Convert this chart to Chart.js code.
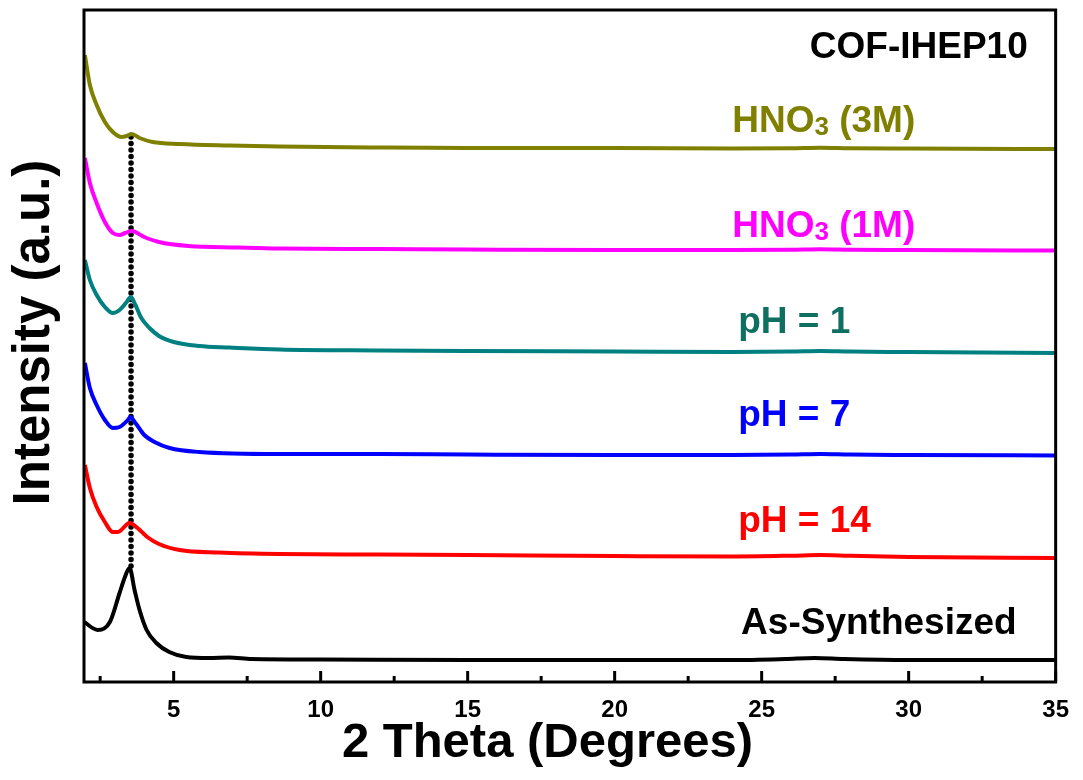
<!DOCTYPE html>
<html>
<head>
<meta charset="utf-8">
<title>COF-IHEP10 PXRD</title>
<script src="https://cdn.jsdelivr.net/npm/chart.js@4.4.1/dist/chart.umd.min.js"></script>
<style>
    html, body { margin: 0; padding: 0; background: #fff; }
</style>
</head>
<body>
<canvas id="xrdChart" width="1083" height="780"></canvas>
<script>
// Tick labels on the 2 Theta axis
const xTicks = [5, 10, 15, 20, 25, 30, 35];
const xMinorTicks = [2.5, 7.5, 12.5, 17.5, 22.5, 27.5, 32.5];

// Patterns (intensity in a.u., already offset as stacked in the figure)
const hno3M3Theta = [1.98, 2.15, 2.38, 2.66, 2.93, 3.23, 3.4, 3.57, 3.84, 4.28, 5.2, 6.9, 8.6, 12, 15, 20, 24, 26, 27, 28, 30, 35];
const hno3M3Int = [627, 597, 577, 560, 550, 545, 546, 548, 544, 540, 538, 536.5, 535.5, 534.5, 534, 534, 533.5, 533.8, 534.3, 533.8, 533.5, 533];

const hno3M1Theta = [1.98, 2.15, 2.38, 2.66, 2.93, 3.16, 3.35, 3.57, 4.0, 4.5, 5.5, 7.2, 8.6, 12, 15, 20, 24, 26, 27, 28, 30, 35];
const hno3M1Int = [524, 499, 479, 460, 449, 447, 449, 451, 445, 440, 436, 434.5, 433.5, 433, 432.5, 432, 432, 432.3, 432.8, 432.3, 432, 431.5];

const ph1Theta = [1.98, 2.15, 2.38, 2.66, 2.93, 3.16, 3.4, 3.54, 3.7, 3.9, 4.18, 4.5, 5.0, 5.87, 6.9, 8.6, 12, 15, 20, 24, 26, 27, 28, 30, 35];
const ph1Int = [422, 402, 387, 375, 369, 372, 380, 385, 377, 364, 354, 346, 340, 336, 334.5, 332.5, 331.5, 331, 330.5, 330, 330.4, 331, 330.4, 330, 329];

const ph7Theta = [1.98, 2.15, 2.38, 2.66, 2.93, 3.16, 3.44, 3.52, 3.7, 4.0, 4.35, 4.86, 5.87, 8.6, 12, 15, 20, 24, 26, 27, 28, 30, 35];
const ph7Int = [319, 294, 277, 262, 254, 255, 262, 265, 259, 247, 240, 234, 230, 228, 228, 227.5, 227, 227, 227.4, 228, 227.4, 227, 226.5];

const ph14Theta = [1.98, 2.15, 2.38, 2.66, 2.93, 3.1, 3.5, 3.77, 4.1, 4.5, 5.2, 6.55, 8.6, 12, 15, 20, 24, 26, 27, 28, 30, 35];
const ph14Int = [217, 194, 175, 160, 150, 150, 159, 154, 145, 138, 132, 129.5, 128, 127.5, 127, 126, 125.5, 126.3, 127, 126.2, 125, 124];

const asSynTheta = [1.95, 2.42, 2.83, 3.16, 3.33, 3.5, 3.67, 3.84, 4.08, 4.41, 4.85, 5.43, 6.2, 6.88, 7.65, 10, 15, 20, 24, 25.8, 26.8, 27.8, 30, 35];
const asSynInt = [60, 52, 60, 89, 104, 114, 92, 72, 52, 39, 30, 25, 24, 24.5, 23, 22.5, 22, 22, 22, 23, 24, 23, 22, 22];

// Dotted guide through the main peak
const peakLineTheta = [3.55, 3.55];
const peakLineInt = [545, 114];

const FONT = "'Liberation Sans', Arial, sans-serif";

function toPoints(xs, ys) {
    return xs.map((x, i) => ({ x: x, y: ys[i] }));
}

function patternDataset(label, xs, ys, color) {
    return {
        label: label,
        data: toPoints(xs, ys),
        borderColor: color,
        borderWidth: 4,
        pointRadius: 0,
        fill: false,
        cubicInterpolationMode: 'monotone'
    };
}

// Frame, inward ticks, axis titles and in-plot labels
const decorPlugin = {
    id: 'decor',
    afterDatasetsDraw(chart) {
        const ctx = chart.ctx;
        const area = chart.chartArea;
        const xs = chart.scales.x;
        const ys = chart.scales.y;

        ctx.save();
        ctx.strokeStyle = '#000';
        ctx.lineWidth = 3;
        ctx.strokeRect(area.left, area.top, area.right - area.left, area.bottom - area.top);

        xTicks.forEach(v => {
            const px = xs.getPixelForValue(v);
            ctx.beginPath();
            ctx.moveTo(px, area.bottom);
            ctx.lineTo(px, area.bottom - 11);
            ctx.stroke();
        });
        xMinorTicks.forEach(v => {
            const px = xs.getPixelForValue(v);
            ctx.beginPath();
            ctx.moveTo(px, area.bottom);
            ctx.lineTo(px, area.bottom - 6);
            ctx.stroke();
        });

        // axis titles
        ctx.fillStyle = '#000';
        ctx.textAlign = 'center';
        ctx.textBaseline = 'middle';
        ctx.font = 'bold 49px ' + FONT;
        ctx.fillText('2 Theta (Degrees)', area.left + (area.right - area.left) * 0.477, area.bottom + 61);
        ctx.save();
        ctx.translate(35, area.top + (area.bottom - area.top) * 0.48);
        ctx.rotate(-Math.PI / 2);
        ctx.font = 'bold 51px ' + FONT;
        ctx.fillText('Intensity (a.u.)', 0, 0);
        ctx.restore();

        const labels = [
            { parts: [['COF-IHEP10', 37, 0]], x: 34.05, y: 634, color: '#000', align: 'right' },
            { parts: [['HNO', 37, 0], ['3', 26, 6], [' (3M)', 37, 0]], x: 24.0, y: 560, color: '#808000' },
            { parts: [['HNO', 37, 0], ['3', 26, 6], [' (1M)', 37, 0]], x: 24.0, y: 455, color: '#ff00ff' },
            { parts: [['pH = 1', 37, 0]], x: 24.2, y: 359, color: '#0f6f60' },
            { parts: [['pH = 7', 37, 0]], x: 24.2, y: 266, color: '#0000ff' },
            { parts: [['pH = 14', 37, 0]], x: 24.2, y: 160, color: '#ff0000' },
            { parts: [['As-Synthesized', 37, 0]], x: 24.3, y: 58, color: '#000' }
        ];

        ctx.textBaseline = 'middle';
        ctx.textAlign = 'left';
        labels.forEach(lb => {
            const widths = lb.parts.map(p => {
                ctx.font = 'bold ' + p[1] + 'px ' + FONT;
                return ctx.measureText(p[0]).width;
            });
            const total = widths.reduce((a, b) => a + b, 0);
            let px = xs.getPixelForValue(lb.x);
            if (lb.align === 'right') px -= total;
            const py = ys.getPixelForValue(lb.y);
            ctx.fillStyle = lb.color;
            lb.parts.forEach((p, i) => {
                ctx.font = 'bold ' + p[1] + 'px ' + FONT;
                ctx.fillText(p[0], px, py + p[2]);
                px += widths[i];
            });
        });
        ctx.restore();
    }
};

const ctx = document.getElementById('xrdChart').getContext('2d');
new Chart(ctx, {
    type: 'line',
    data: {
        datasets: [
            patternDataset('HNO3 (3M)', hno3M3Theta, hno3M3Int, '#808000'),
            patternDataset('HNO3 (1M)', hno3M1Theta, hno3M1Int, '#ff00ff'),
            patternDataset('pH = 1', ph1Theta, ph1Int, '#008080'),
            patternDataset('pH = 7', ph7Theta, ph7Int, '#0000ff'),
            patternDataset('pH = 14', ph14Theta, ph14Int, '#ff0000'),
            patternDataset('As-Synthesized', asSynTheta, asSynInt, '#000000'),
            {
                label: 'peak',
                data: toPoints(peakLineTheta, peakLineInt),
                borderColor: '#000',
                borderWidth: 5.5,
                borderDash: [0, 6.5],
                borderCapStyle: 'round',
                pointRadius: 0,
                fill: false
            }
        ]
    },
    options: {
        responsive: false,
        animation: false,
        parsing: false,
        layout: { padding: { top: 10, right: 22, left: 0, bottom: 0 } },
        plugins: {
            legend: { display: false },
            tooltip: { enabled: false }
        },
        scales: {
            x: {
                type: 'linear',
                min: 1.95,
                max: 35,
                afterBuildTicks: s => { s.ticks = xTicks.map(v => ({ value: v })); },
                afterFit: s => { s.height = 98; },
                grid: { display: false, drawTicks: false },
                border: { display: false },
                ticks: {
                    color: '#000',
                    padding: 14,
                    maxRotation: 0,
                    autoSkip: false,
                    font: { family: FONT, size: 24, weight: 'bold' }
                },
                title: { display: false }
            },
            y: {
                type: 'linear',
                min: 0,
                max: 672,
                afterFit: s => { s.width = 84; },
                grid: { display: false, drawTicks: false },
                border: { display: false },
                ticks: { display: false },
                title: { display: false }
            }
        }
    },
    plugins: [decorPlugin]
});
</script>
</body>
</html>
